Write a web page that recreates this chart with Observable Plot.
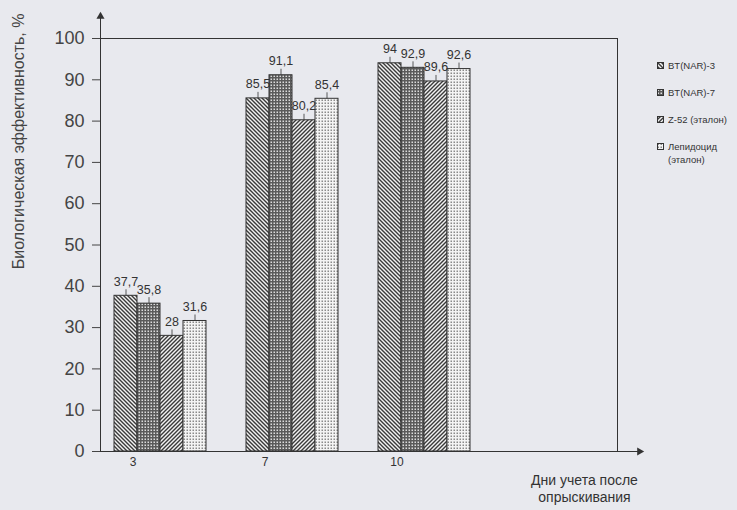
<!DOCTYPE html>
<html>
<head>
<meta charset="utf-8">
<script src="https://cdn.jsdelivr.net/npm/d3@7"></script>
<script src="https://cdn.jsdelivr.net/npm/@observablehq/plot@0.6"></script>
<style>
  html, body { margin: 0; padding: 0; background: #e8e9ee; }
  #wrap { position: relative; width: 737px; height: 510px; font-family: "Liberation Sans", Arial, sans-serif; }
  #legend { position: absolute; left: 657px; top: 60px; font-size: 9.5px; color: #333; }
  #legend .item { display: flex; align-items: flex-start; height: 27px; }
  #legend svg { flex: none; margin-top: 2px; margin-right: 4px; }
  #legend span { display: block; width: 72px; line-height: 13px; margin-top: -1px; }
</style>
</head>
<body>
<div id="wrap"><div id="legend"></div></div>
<script>
// ---- data ----
const days = ["3", "7", "10"];
const series = ["BT(NAR)-3", "BT(NAR)-7", "Z-52 (эталон)", "Лепидоцид (эталон)"];
const btNar3 = [37.7, 85.5, 94];
const btNar7 = [35.8, 91.1, 92.9];
const z52 = [28, 80.2, 89.6];
const lepidocid = [31.6, 85.4, 92.6];
const yTicks = [0, 10, 20, 30, 40, 50, 60, 70, 80, 90, 100];
const yLabel = "Биологическая эффективность, %";
const xLabel = "Дни учета после\nопрыскивания";

const valuesBySeries = [btNar3, btNar7, z52, lepidocid];
const data = days.flatMap((d, i) => series.map((s, j) => ({day: d, series: s, value: valuesBySeries[j][i]})));
const fmt = v => String(v).replace(".", ",");
const patternIds = series.map((_, i) => `url(#pat${i})`);
const ink = "#333";
const extraRight = -134; // the plot box continues to the right of the last group

const chart = Plot.plot({
  width: 737,
  height: 510,
  marginTop: 38,
  marginBottom: 59,
  marginLeft: 100,
  marginRight: 117,
  style: {background: "transparent", fontFamily: "'Liberation Sans', Arial, sans-serif", color: ink},
  fx: {domain: days, paddingInner: 0.1, paddingOuter: 0.505, align: 0, label: null},
  x: {domain: series, paddingInner: 0, paddingOuter: 0.5, axis: null},
  y: {domain: [0, 100], label: null},
  color: {domain: series, range: patternIds},
  marks: [
    Plot.barY(data, {fx: "day", x: "series", y: "value", fill: "series", stroke: ink, strokeWidth: 1}),
    Plot.frame({facet: "super", insetRight: extraRight, stroke: ink}),
    Plot.frame({facet: "super", anchor: "left", insetTop: -22, stroke: ink}),
    Plot.frame({facet: "super", anchor: "bottom", insetRight: extraRight - 22, stroke: ink}),
    Plot.dot([0], {facet: "super", frameAnchor: "top-left", dy: -22, symbol: "triangle", r: 3, fill: ink, stroke: null}),
    Plot.dot([0], {facet: "super", frameAnchor: "bottom-right", dx: 22 - extraRight, symbol: "triangle", rotate: 90, r: 3, fill: ink, stroke: null}),
    Plot.axisY({ticks: yTicks, tickSize: 8, tickPadding: 8, fontSize: 18, label: null, color: "#444"}),
    Plot.axisFx({anchor: "bottom", tickSize: 0, tickPadding: 6, dx: -27, fontSize: 12, label: null, color: ink}),
    Plot.ruleX(data, {fx: "day", x: "series", y1: "value", y2: "value", insetTop: -6, stroke: ink, strokeWidth: 0.8}),
    Plot.text(data, {fx: "day", x: "series", y: "value", text: d => fmt(d.value), dy: -14, fontSize: 12.5, fill: ink}),
    Plot.text([yLabel], {facet: "super", frameAnchor: "top-left", rotate: -90, textAnchor: "end", lineAnchor: "middle", dx: -82, dy: -25, fontSize: 16, fill: "#444"}),
    Plot.text([xLabel], {facet: "super", frameAnchor: "bottom-right", textAnchor: "middle", lineAnchor: "middle", lineHeight: 1.2, dx: 101, dy: 37, fontSize: 14, fill: ink})
  ]
});

// pattern definitions for the bar fills
const defsMarkup = `
<pattern id="pat0" patternUnits="userSpaceOnUse" width="4" height="4">
  <rect width="4" height="4" fill="#f2f2f2"/>
  <path d="M-1,-1 L5,5 M-1,3 L1,5 M3,-1 L5,1" stroke="#3a3a3a" stroke-width="1.4"/>
</pattern>
<pattern id="pat1" patternUnits="userSpaceOnUse" width="3" height="3">
  <rect width="3" height="3" fill="#5a5a5a"/>
  <rect x="0.5" y="0.5" width="1.5" height="1.5" fill="#dcdcdc"/>
</pattern>
<pattern id="pat2" patternUnits="userSpaceOnUse" width="4" height="4">
  <rect width="4" height="4" fill="#f2f2f2"/>
  <path d="M-1,5 L5,-1 M-1,1 L1,-1 M3,5 L5,3" stroke="#3a3a3a" stroke-width="1.4"/>
</pattern>
<pattern id="pat3" patternUnits="userSpaceOnUse" width="3" height="3">
  <rect width="3" height="3" fill="#f4f4f4"/>
  <rect x="0.5" y="0.5" width="1.5" height="1.5" fill="#8a8a8a"/>
</pattern>`;
const defs = document.createElementNS("http://www.w3.org/2000/svg", "defs");
defs.innerHTML = defsMarkup;
chart.insertBefore(defs, chart.firstChild);

const wrap = document.getElementById("wrap");
wrap.insertBefore(chart, wrap.firstChild);

// legend
const legend = d3.select("#legend");
series.forEach((s, i) => {
  const item = legend.append("div").attr("class", "item");
  const sw = item.append("svg").attr("width", 7).attr("height", 7);
  sw.append("rect").attr("x", 0.5).attr("y", 0.5).attr("width", 6).attr("height", 6)
    .attr("fill", patternIds[i]).attr("stroke", ink).attr("stroke-width", 1);
  item.append("span").text(s);
});
</script>
</body>
</html>
